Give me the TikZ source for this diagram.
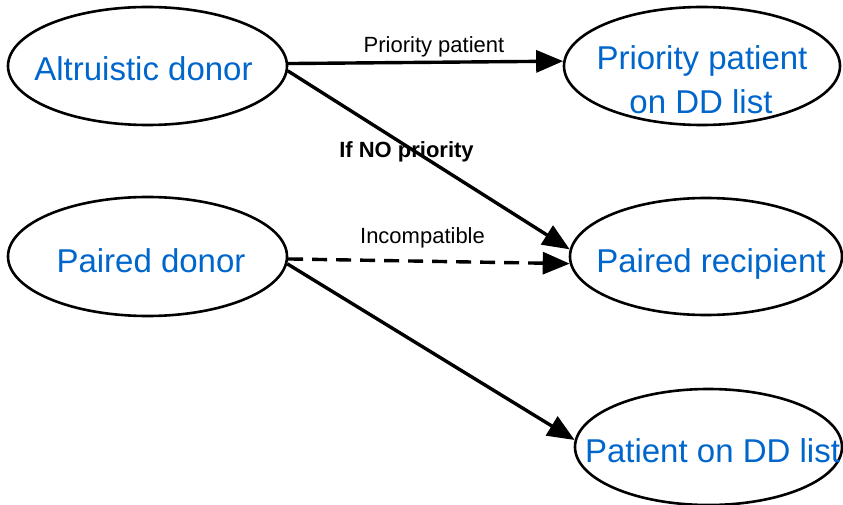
\documentclass[tikz,border=0pt]{standalone}
\usepackage{fontspec}
\setmainfont{Liberation Sans}
\usetikzlibrary{arrows.meta,shapes.geometric}
\definecolor{nodeblue}{HTML}{0066CC}
\begin{document}
\begin{tikzpicture}[x=1pt,y=-1pt,
  oval/.style={draw=black,line width=2.6pt,ellipse,inner sep=0pt},
  bigtext/.style={text=nodeblue,font=\fontsize{33}{43}\selectfont,anchor=base,inner sep=0pt},
  lbl/.style={text=black,font=\fontsize{22}{26}\selectfont,anchor=base,inner sep=0pt},
  conn/.style={draw=black,line width=3.4pt,-{Triangle[length=27pt,width=22pt]}},
  dashconn/.style={conn,dash pattern=on 15pt off 9pt}]
\useasboundingbox (0,0) rectangle (843,505);
% ellipses
\node[oval,minimum width=279pt,minimum height=118pt] (alt) at (147.5,66) {};
\node[oval,minimum width=276pt,minimum height=118pt] (pri) at (702,66) {};
\node[oval,minimum width=279pt,minimum height=119pt] (pdon) at (147.5,256.5) {};
\node[oval,minimum width=272pt,minimum height=117pt] (prec) at (706,256.5) {};
\node[oval,minimum width=267pt,minimum height=116pt] (pdd) at (708.5,447) {};
% texts
\node[bigtext] (altT) at (143.5,81) {Altruistic donor};
\node[bigtext] (priT1) at (702,70) {Priority patient};
\node[bigtext] (priT2) at (701,114) {on DD list};
\node[bigtext] (pdonT) at (151,272) {Paired donor};
\node[bigtext] (precT) at (711,272) {Paired recipient};
\node[bigtext] (pddT) at (712.5,462) {Patient on DD list};
% connectors
\draw[conn] (alt.1.6) -- (pri.178.7);
\draw[conn] (alt.-2.5) -- (prec.177.3);
\draw[dashconn] (pdon.-1.4) -- (prec.-177.3);
\draw[conn] (pdon.-3) -- (pdd.177.9);
% labels
\node[lbl] (l1) at (434,53) {Priority patient};
\node[lbl,font=\fontsize{22}{26}\selectfont\bfseries] (l2) at (406.5,158) {If NO priority};
\node[lbl] (l3) at (422.5,243) {Incompatible};
\end{tikzpicture}
\end{document}
